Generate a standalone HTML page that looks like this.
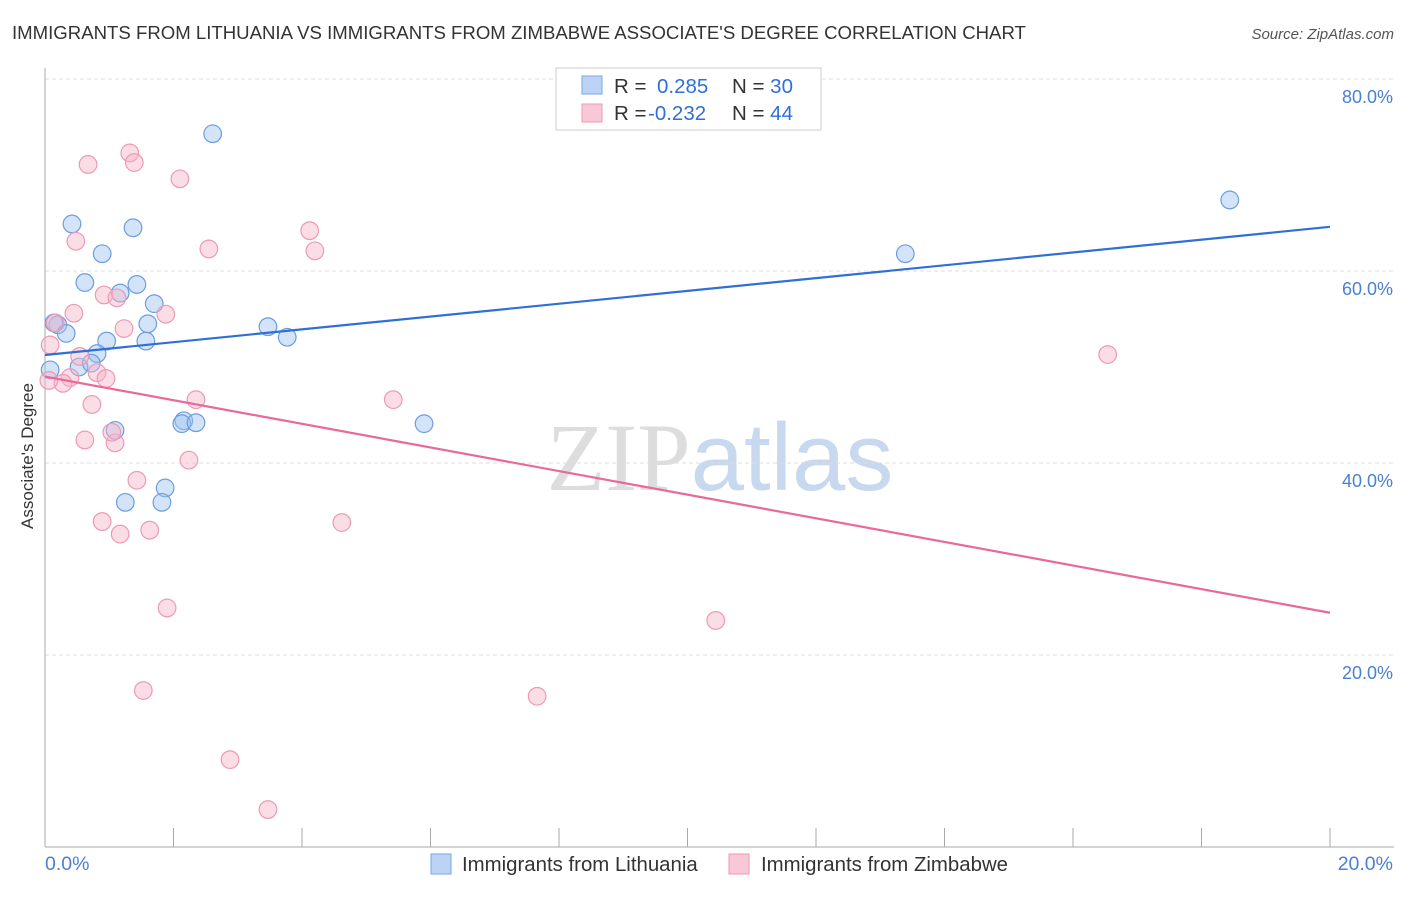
<!DOCTYPE html>
<html><head><meta charset="utf-8"><style>
body{margin:0;background:#fff;font-family:"Liberation Sans",sans-serif;}
svg text{font-family:"Liberation Sans",sans-serif;}
</style></head><body>
<svg id="chart" width="1406" height="892" xmlns="http://www.w3.org/2000/svg">
<text x="12" y="39" font-size="18.6" fill="#333">IMMIGRANTS FROM LITHUANIA VS IMMIGRANTS FROM ZIMBABWE ASSOCIATE'S DEGREE CORRELATION CHART</text>
<text x="1394" y="39" font-size="15" fill="#555" text-anchor="end" font-style="italic">Source: ZipAtlas.com</text>
<text x="720" y="490" font-size="96" text-anchor="middle"><tspan fill="#ddd" font-family="Liberation Serif">ZIP</tspan><tspan fill="#c8d8ee">atlas</tspan></text>
<text transform="translate(33,456) rotate(-90)" font-size="17" fill="#333" text-anchor="middle">Associate's Degree</text>
<g id="grid"></g><g id="axes"></g><g id="pts"></g><g id="trends"></g>
<g>
<rect x="556" y="68" width="265" height="62" fill="#fff" stroke="#ccc"/>
<rect x="582" y="76" width="20" height="18" fill="#bcd3f5" stroke="#7aa5e6"/>
<rect x="582" y="104" width="20" height="18" fill="#f9c8d7" stroke="#ee9ab4"/>
<text x="614" y="93" font-size="20.5" fill="#333">R = <tspan fill="#2f6fd6" x="657">0.285</tspan><tspan x="732" fill="#333">N = </tspan><tspan fill="#2f6fd6">30</tspan></text>
<text x="614" y="120" font-size="20.5" fill="#333">R = <tspan fill="#2f6fd6" x="648">-0.232</tspan><tspan x="732" fill="#333">N = </tspan><tspan fill="#2f6fd6">44</tspan></text>
</g>
<g>
<rect x="431" y="854" width="20" height="20" fill="#bcd3f5" stroke="#7aa5e6"/>
<text x="462" y="871" font-size="20.4" fill="#333">Immigrants from Lithuania</text>
<rect x="729" y="854" width="20" height="20" fill="#f9c8d7" stroke="#ee9ab4"/>
<text x="761" y="871" font-size="20.4" fill="#333">Immigrants from Zimbabwe</text>
</g>
</svg>
<script>
const yTicks=[20,40,60,80];
const yTickLabels=["20.0%","40.0%","60.0%","80.0%"];
const xTickCount=10;
const lithX=[2.61,0.42,1.37,0.89,0.62,1.43,1.17,1.70,0.20,0.14,1.60,3.47,0.33,3.77,0.96,1.57,0.81,0.53,0.72,0.08,1.09,2.16,2.13,2.35,5.90,1.87,1.25,1.82,13.39,18.44];
const lithY=[74.3,64.9,64.5,61.8,58.8,58.6,57.7,56.6,54.4,54.6,54.5,54.2,53.5,53.1,52.7,52.7,51.4,50.0,50.4,49.7,43.4,44.4,44.1,44.2,44.1,37.4,35.9,35.9,61.8,67.4];
const zimX=[0.67,1.32,1.39,2.10,0.48,2.55,4.12,4.20,0.92,1.12,0.45,1.88,1.23,0.16,0.08,0.54,0.39,0.28,0.81,0.95,0.06,0.73,2.35,5.42,0.62,1.09,1.04,2.24,1.43,0.89,1.63,1.17,4.62,1.90,10.44,1.53,7.66,2.88,3.47,16.54];
const zimY=[71.1,72.3,71.3,69.6,63.1,62.3,64.2,62.1,57.5,57.2,55.6,55.5,54.0,54.6,52.3,51.1,48.9,48.3,49.4,48.8,48.6,46.1,46.6,46.6,42.4,42.1,43.2,40.3,38.2,33.9,33.0,32.6,33.8,24.9,23.6,16.3,15.7,9.1,3.9,51.3];
const lithTrend=[51.25,64.6];
const zimTrend=[49.0,24.4];
const NS="http://www.w3.org/2000/svg";
const X=v=>45+v*64.25, Y=v=>847-v*9.6;
function mk(t,a,p){const e=document.createElementNS(NS,t);for(const k in a)e.setAttribute(k,a[k]);p.appendChild(e);return e;}
const grid=document.getElementById('grid'),axes=document.getElementById('axes'),pts=document.getElementById('pts'),tr=document.getElementById('trends');
yTicks.forEach((t,i)=>{
 const l=mk('line',{x1:45,x2:1394,y1:Y(t),y2:Y(t),stroke:'#ddd','stroke-dasharray':'4,3'},grid);
 
 
 const tx=mk('text',{x:1393,y:Y(t)+24,'font-size':18,fill:'#4a7fd4','text-anchor':'end'},grid);
 tx.textContent=yTickLabels[i];
 
 
});
mk('line',{x1:45,x2:45,y1:68,y2:847,stroke:'#aaa'},axes);
mk('line',{x1:45,x2:1394,y1:847,y2:847,stroke:'#aaa'},axes);
for(let i=0;i<=xTickCount;i++){const x=X(i*2);const t=mk('line',{x1:x,x2:x,y1:828,y2:847,stroke:'#aaa'},axes);
 
 }
let a=mk('text',{x:45,y:870,'font-size':19.5,fill:'#4a7fd4'},axes);a.textContent='0.0%';

let b=mk('text',{x:1393,y:870,'font-size':19.5,fill:'#4a7fd4','text-anchor':'end'},axes);b.textContent='20.0%';

lithX.forEach((v,i)=>{const c=mk('circle',{cx:X(v),cy:Y(lithY[i]),r:8.8,fill:'rgba(160,195,240,0.45)',stroke:'#6b9de0','stroke-width':1.2},pts);
 
 });
zimX.forEach((v,i)=>{const c=mk('circle',{cx:X(v),cy:Y(zimY[i]),r:8.8,fill:'rgba(246,180,200,0.45)',stroke:'#ec9ab5','stroke-width':1.2},pts);
 
 });
const t1=mk('line',{x1:X(0),y1:Y(lithTrend[0]),x2:X(20),y2:Y(lithTrend[1]),stroke:'#2f6fd6','stroke-width':2.2},tr);


const t2=mk('line',{x1:X(0),y1:Y(zimTrend[0]),x2:X(20),y2:Y(zimTrend[1]),stroke:'#e8699a','stroke-width':2.2},tr);


</script>
</body></html>
